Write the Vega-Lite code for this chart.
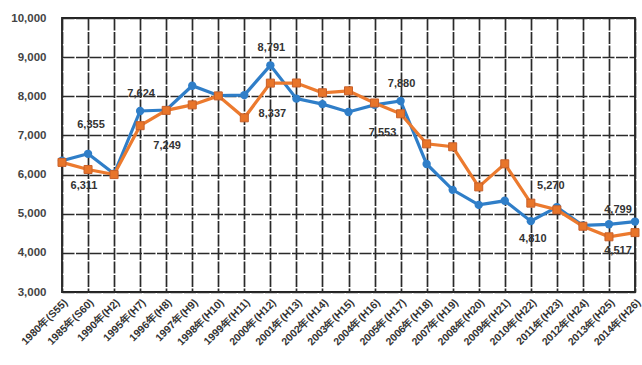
{
  "$schema": "https://vega.github.io/schema/vega-lite/v6.json",
  "width": 573,
  "height": 274,
  "autosize": {"type": "none"},
  "padding": {"left": 62, "top": 18, "right": 7, "bottom": 73},
  "background": "white",
  "config": {
    "view": {"stroke": "#222", "strokeWidth": 1.8},
    "font": "Liberation Sans"
  },
  "data": {
    "values": [
      {"year": "1980年(S55)", "s": "series1", "value": 6355},
      {"year": "1985年(S60)", "s": "series1", "value": 6530},
      {"year": "1990年(H2)", "s": "series1", "value": 6020},
      {"year": "1995年(H7)", "s": "series1", "value": 7624},
      {"year": "1996年(H8)", "s": "series1", "value": 7650},
      {"year": "1997年(H9)", "s": "series1", "value": 8270},
      {"year": "1998年(H10)", "s": "series1", "value": 8020},
      {"year": "1999年(H11)", "s": "series1", "value": 8030},
      {"year": "2000年(H12)", "s": "series1", "value": 8791},
      {"year": "2001年(H13)", "s": "series1", "value": 7940},
      {"year": "2002年(H14)", "s": "series1", "value": 7800},
      {"year": "2003年(H15)", "s": "series1", "value": 7600},
      {"year": "2004年(H16)", "s": "series1", "value": 7780},
      {"year": "2005年(H17)", "s": "series1", "value": 7880},
      {"year": "2006年(H18)", "s": "series1", "value": 6270},
      {"year": "2007年(H19)", "s": "series1", "value": 5610},
      {"year": "2008年(H20)", "s": "series1", "value": 5225},
      {"year": "2009年(H21)", "s": "series1", "value": 5330},
      {"year": "2010年(H22)", "s": "series1", "value": 4810},
      {"year": "2011年(H23)", "s": "series1", "value": 5170},
      {"year": "2012年(H24)", "s": "series1", "value": 4700},
      {"year": "2013年(H25)", "s": "series1", "value": 4730},
      {"year": "2014年(H26)", "s": "series1", "value": 4799},
      {"year": "1980年(S55)", "s": "series2", "value": 6311},
      {"year": "1985年(S60)", "s": "series2", "value": 6130},
      {"year": "1990年(H2)", "s": "series2", "value": 6000},
      {"year": "1995年(H7)", "s": "series2", "value": 7249},
      {"year": "1996年(H8)", "s": "series2", "value": 7640},
      {"year": "1997年(H9)", "s": "series2", "value": 7780},
      {"year": "1998年(H10)", "s": "series2", "value": 8010},
      {"year": "1999年(H11)", "s": "series2", "value": 7450},
      {"year": "2000年(H12)", "s": "series2", "value": 8337},
      {"year": "2001年(H13)", "s": "series2", "value": 8340},
      {"year": "2002年(H14)", "s": "series2", "value": 8090},
      {"year": "2003年(H15)", "s": "series2", "value": 8140},
      {"year": "2004年(H16)", "s": "series2", "value": 7830},
      {"year": "2005年(H17)", "s": "series2", "value": 7553},
      {"year": "2006年(H18)", "s": "series2", "value": 6785},
      {"year": "2007年(H19)", "s": "series2", "value": 6710},
      {"year": "2008年(H20)", "s": "series2", "value": 5685},
      {"year": "2009年(H21)", "s": "series2", "value": 6275},
      {"year": "2010年(H22)", "s": "series2", "value": 5270},
      {"year": "2011年(H23)", "s": "series2", "value": 5100},
      {"year": "2012年(H24)", "s": "series2", "value": 4680},
      {"year": "2013年(H25)", "s": "series2", "value": 4410},
      {"year": "2014年(H26)", "s": "series2", "value": 4517}
    ]
  },
  "encoding": {
    "x": {
      "field": "year", "type": "ordinal", "sort": null,
      "scale": {"type": "point", "padding": 0},
      "axis": {
        "title": null, "labelAngle": -45, "labelFontSize": 10.5, "labelColor": "#333",
        "labelFontWeight": "bold",
        "domain": false, "ticks": false, "labelPadding": 5,
        "grid": true, "gridColor": "#2a2a2a", "gridWidth": 1.7, "gridDash": [12, 1.5]
      }
    },
    "y": {
      "field": "value", "type": "quantitative",
      "scale": {"domain": [3000, 10000], "nice": false},
      "axis": {
        "title": null, "values": [3000, 4000, 5000, 6000, 7000, 8000, 9000, 10000],
        "format": ",d", "labelFontSize": 11.5, "labelColor": "#444", "labelFontWeight": "bold",
        "domain": false, "ticks": false, "labelPadding": 16,
        "grid": true, "gridColor": "#2a2a2a", "gridWidth": 1.7, "gridDash": [12, 1.5]
      }
    }
  },
  "layer": [
    {
      "transform": [{"filter": "datum.s === 'series1'"}],
      "mark": {"type": "line", "color": "#2f7ec8", "strokeWidth": 3.2,
               "point": {"filled": true, "size": 70, "color": "#2f7ec8", "shape": "circle"}}
    },
    {
      "transform": [{"filter": "datum.s === 'series2'"}],
      "mark": {"type": "line", "color": "#ec7a2e", "strokeWidth": 3.2,
               "point": {"filled": true, "size": 64, "color": "#e8752a", "shape": "square",
                         "stroke": "#c8602a", "strokeWidth": 1}}
    },
    {
      "transform": [{"filter": "datum.s === 'series1' && (datum.year === '2000年(H12)' || datum.year === '2005年(H17)' || datum.year === '1995年(H7)')"}],
      "mark": {"type": "text", "dy": -17, "dx": 1, "fontSize": 11, "fontWeight": "bold", "color": "#333"},
      "encoding": {"text": {"field": "value", "type": "quantitative", "format": ","}}
    },
    {
      "transform": [{"filter": "datum.s === 'series1' && datum.year === '1980年(S55)'"}],
      "mark": {"type": "text", "dx": 29, "dy": -36, "fontSize": 11, "fontWeight": "bold", "color": "#333"},
      "encoding": {"text": {"field": "value", "type": "quantitative", "format": ","}}
    },
    {
      "transform": [{"filter": "datum.s === 'series2' && datum.year === '1980年(S55)'"}],
      "mark": {"type": "text", "dx": 22, "dy": 24, "fontSize": 11, "fontWeight": "bold", "color": "#333"},
      "encoding": {"text": {"field": "value", "type": "quantitative", "format": ","}}
    },
    {
      "transform": [{"filter": "datum.s === 'series2' && datum.year === '1995年(H7)'"}],
      "mark": {"type": "text", "dx": 27, "dy": 20, "fontSize": 11, "fontWeight": "bold", "color": "#333"},
      "encoding": {"text": {"field": "value", "type": "quantitative", "format": ","}}
    },
    {
      "transform": [{"filter": "datum.s === 'series2' && datum.year === '2000年(H12)'"}],
      "mark": {"type": "text", "dx": 2, "dy": 31, "fontSize": 11, "fontWeight": "bold", "color": "#333"},
      "encoding": {"text": {"field": "value", "type": "quantitative", "format": ","}}
    },
    {
      "transform": [{"filter": "datum.s === 'series2' && datum.year === '2005年(H17)'"}],
      "mark": {"type": "text", "dx": -18, "dy": 19, "fontSize": 11, "fontWeight": "bold", "color": "#333"},
      "encoding": {"text": {"field": "value", "type": "quantitative", "format": ","}}
    },
    {
      "transform": [{"filter": "datum.s === 'series2' && datum.year === '2010年(H22)'"}],
      "mark": {"type": "text", "dx": 20, "dy": -17, "fontSize": 11, "fontWeight": "bold", "color": "#333"},
      "encoding": {"text": {"field": "value", "type": "quantitative", "format": ","}}
    },
    {
      "transform": [{"filter": "datum.s === 'series1' && datum.year === '2010年(H22)'"}],
      "mark": {"type": "text", "dx": 2, "dy": 18, "fontSize": 11, "fontWeight": "bold", "color": "#333"},
      "encoding": {"text": {"field": "value", "type": "quantitative", "format": ","}}
    },
    {
      "transform": [{"filter": "datum.s === 'series1' && datum.year === '2014年(H26)'"}],
      "mark": {"type": "text", "dx": -17, "dy": -12, "fontSize": 11, "fontWeight": "bold", "color": "#333"},
      "encoding": {"text": {"field": "value", "type": "quantitative", "format": ","}}
    },
    {
      "transform": [{"filter": "datum.s === 'series2' && datum.year === '2014年(H26)'"}],
      "mark": {"type": "text", "dx": -17, "dy": 18, "fontSize": 11, "fontWeight": "bold", "color": "#333"},
      "encoding": {"text": {"field": "value", "type": "quantitative", "format": ","}}
    }
  ]
}
